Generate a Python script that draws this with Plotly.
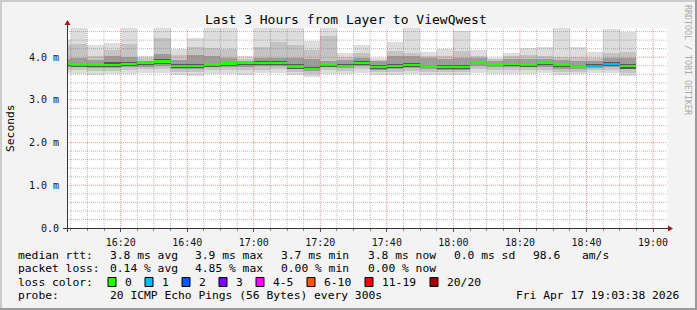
import plotly.graph_objects as go
import pandas as pd

# ---------------- data ----------------
slot_start = pd.date_range("2026-04-17 16:00", periods=35, freq="5min")

ping_max = [4.40, 4.75, 4.29, 4.34, 4.75, 4.02, 4.75, 4.19, 4.44, 4.75, 4.75, 4.03, 4.75, 4.75, 4.75,
            4.38, 4.75, 4.09, 4.29, 3.98, 4.35, 4.75, 4.12, 4.19, 4.61, 4.17, 3.99, 4.10, 4.21, 4.25,
            4.75, 4.23, 4.12, 4.67, 4.59]
ping_hi2 = [4.28, 4.31, 4.03, 4.17, 4.32, 3.97, 4.45, 4.05, 4.25, 4.22, 4.19, 3.95, 4.23, 4.36, 4.29,
            4.17, 4.50, 4.00, 4.10, 3.94, 4.15, 4.10, 4.03, 4.02, 4.15, 4.02, 3.95, 4.02, 4.05, 4.02,
            4.00, 4.00, 3.98, 4.09, 4.13]
ping_hi3 = [3.96, 3.97, 3.93, 4.03, 4.00, 3.92, 4.07, 3.93, 4.05, 4.02, 3.97, 3.91, 3.97, 3.97, 3.97,
            3.95, 3.92, 3.94, 3.97, 3.90, 4.03, 4.02, 3.97, 3.95, 3.97, 3.97, 3.91, 3.95, 3.95, 3.96,
            3.93, 3.92, 3.92, 3.97, 3.99]
ping_hi4 = [3.89, 3.87, 3.86, 3.88, 3.88, 3.89, 3.95, 3.84, 3.84, 3.87, 3.89, 3.89, 3.91, 3.91, 3.83,
            3.77, 3.87, 3.84, 3.91, 3.81, 3.84, 3.86, 3.82, 3.81, 3.82, 3.91, 3.86, 3.87, 3.87, 3.89,
            3.87, 3.82, 3.84, 3.88, 3.83]
median_rtt = [3.85, 3.83, 3.83, 3.82, 3.84, 3.86, 3.90, 3.80, 3.79, 3.83, 3.85, 3.86, 3.87, 3.87, 3.78,
              3.73, 3.83, 3.80, 3.87, 3.77, 3.79, 3.82, 3.78, 3.77, 3.77, 3.88, 3.83, 3.84, 3.83, 3.86,
              3.83, 3.78, 3.80, 3.84, 3.79]
ping_lo4 = [3.79, 3.78, 3.78, 3.76, 3.79, 3.81, 3.84, 3.75, 3.74, 3.78, 3.80, 3.81, 3.82, 3.82, 3.73,
            3.69, 3.78, 3.76, 3.82, 3.73, 3.74, 3.77, 3.74, 3.73, 3.72, 3.83, 3.79, 3.79, 3.78, 3.81,
            3.77, 3.74, 3.77, 3.80, 3.73]
ping_lo3 = [3.77, 3.76, 3.75, 3.74, 3.77, 3.78, 3.80, 3.73, 3.72, 3.76, 3.77, 3.78, 3.79, 3.79, 3.72,
            3.67, 3.76, 3.74, 3.80, 3.71, 3.72, 3.75, 3.72, 3.71, 3.71, 3.80, 3.76, 3.77, 3.76, 3.78,
            3.73, 3.72, 3.75, 3.77, 3.72]
ping_lo2 = [3.70, 3.70, 3.68, 3.67, 3.70, 3.72, 3.72, 3.66, 3.66, 3.69, 3.70, 3.70, 3.71, 3.72, 3.66,
            3.60, 3.69, 3.68, 3.72, 3.65, 3.66, 3.68, 3.66, 3.65, 3.65, 3.72, 3.69, 3.70, 3.69, 3.71,
            3.66, 3.66, 3.69, 3.71, 3.64]
ping_min = [3.62, 3.61, 3.59, 3.60, 3.61, 3.63, 3.62, 3.58, 3.57, 3.60, 3.60, 3.59, 3.62, 3.62, 3.58,
            3.53, 3.60, 3.60, 3.63, 3.59, 3.59, 3.60, 3.59, 3.58, 3.59, 3.62, 3.61, 3.61, 3.60, 3.62,
            3.58, 3.60, 3.62, 3.63, 3.56]
lost_pings = [0, 0, 0, 0, 0, 0, 0, 0, 0, 0, 0, 0, 0, 0, 0, 0, 0, 0, 0, 0, 0, 0, 0, 0, 0, 0, 0, 0, 0, 0,
              0, 0, 1, 1, 0]

loss_labels = ["0", "1", "2", "3", "4-5", "6-10", "11-19", "20/20"]
loss_colors = ["#26ff00", "#00b8ff", "#0059ff", "#7e00ff", "#ff00ff", "#ff5500", "#ff0000", "#a10000"]
loss_upper = [0, 1, 2, 3, 5, 10, 19, 20]

y_tick_vals = [0, 1, 2, 3, 4]
y_tick_text = ["0.0", "1.0 m", "2.0 m", "3.0 m", "4.0 m"]

title_text = "Last 3 Hours from Layer to ViewQwest"
stats_rtt = ["3.8 ms avg", "3.9 ms max", "3.7 ms min", "3.8 ms now", "0.0 ms sd", "98.6", "am/s"]
stats_loss = ["0.14 % avg", "4.85 % max", "0.00 % min", "0.00 % now"]
probe_text = "20 ICMP Echo Pings (56 Bytes) every 300s"
date_text = "Fri Apr 17 19:03:38 2026"

# ---------------- geometry ----------------
W, H = 697, 310
PL, PR, PT, PB = 67, 667, 28, 228
X_RANGE = ["2026-04-17 16:03:52", "2026-04-17 19:04:12"]
Y_RANGE = [0, 4.684]
MONO = "DejaVu Sans Mono"


def px(x):
    return (x - PL) / (PR - PL)


def py(y):
    return (PB - y) / (PB - PT)


centers = slot_start + pd.Timedelta(seconds=150)
BAR_W = 300000

fig = go.Figure()

layers = [
    (ping_min, ping_max, "#dddddd"),
    (ping_lo2, ping_hi2, "#c4c4c4"),
    (ping_lo3, ping_hi3, "#9c9c9c"),
    (ping_lo4, ping_hi4, "#575757"),
]
for lo, hi, col in layers:
    fig.add_trace(go.Bar(
        x=centers, base=lo, y=[h - l for l, h in zip(lo, hi)], width=BAR_W,
        marker=dict(color=col, line=dict(width=0)), hoverinfo="skip", showlegend=False))


def loss_color(n):
    for up, c in zip(loss_upper, loss_colors):
        if n <= up:
            return c
    return loss_colors[-1]


MED_H = 0.058
fig.add_trace(go.Bar(
    x=centers, base=[m - MED_H / 2 for m in median_rtt], y=[MED_H] * len(median_rtt), width=BAR_W,
    marker=dict(color=[loss_color(n) for n in lost_pings], line=dict(width=0)),
    hoverinfo="skip", showlegend=False))

# grid drawn on top of the smoke (as in rrdtool)
grid_times = pd.date_range("2026-04-17 16:05", "2026-04-17 19:00", freq="5min")
minor_x, minor_y, major_x, major_y = [], [], [], []
for t in grid_times:
    if t.minute % 20 == 0:
        major_x += [t, t, None]
        major_y += [Y_RANGE[0], Y_RANGE[1], None]
    else:
        minor_x += [t, t, None]
        minor_y += [Y_RANGE[0], Y_RANGE[1], None]
for i in range(1, 24):
    v = i * 0.2
    if i % 5 == 0:
        major_x += [X_RANGE[0], X_RANGE[1], None]
        major_y += [v, v, None]
    else:
        minor_x += [X_RANGE[0], X_RANGE[1], None]
        minor_y += [v, v, None]
fig.add_trace(go.Scatter(x=minor_x, y=minor_y, mode="lines", hoverinfo="skip", showlegend=False,
                         line=dict(color="rgba(120,120,120,0.5)", width=1, dash="1px,1px")))
fig.add_trace(go.Scatter(x=major_x, y=major_y, mode="lines", hoverinfo="skip", showlegend=False,
                         line=dict(color="rgba(235,70,70,0.6)", width=1, dash="1px,1px")))

fig.update_layout(
    width=W, height=H, autosize=False,
    margin=dict(l=PL, r=W - PR, t=PT, b=H - PB, pad=0),
    paper_bgcolor="#f3f3f3", plot_bgcolor="#ffffff",
    barmode="overlay", bargap=0, showlegend=False,
    font=dict(family=MONO, color="#000000"),
)
fig.update_xaxes(
    type="date", range=X_RANGE, showgrid=False, zeroline=False, showline=False,
    tickformat="%H:%M", tick0="2026-04-17 16:00", dtick=1200000,
    ticks="outside", ticklen=3, tickcolor="#555555", ticklabelstandoff=2,
    tickfont=dict(family=MONO, size=10, color="#111111"),
    minor=dict(dtick=300000, ticks="outside", ticklen=2, tickcolor="#888888", showgrid=False),
)
fig.update_yaxes(
    range=Y_RANGE, showgrid=False, zeroline=False, showline=False,
    tickvals=y_tick_vals, ticktext=y_tick_text, ticks="", ticklabelstandoff=7,
    tickfont=dict(family=MONO, size=10, color="#111111"),
)

shapes = []
# frame
shapes.append(dict(type="line", xref="paper", yref="paper", x0=px(0), x1=px(W), y0=py(1), y1=py(1),
                   line=dict(color="#cccccc", width=2)))
shapes.append(dict(type="line", xref="paper", yref="paper", x0=px(1), x1=px(1), y0=py(0), y1=py(H),
                   line=dict(color="#cccccc", width=2)))
shapes.append(dict(type="line", xref="paper", yref="paper", x0=px(0), x1=px(W), y0=py(H - 1), y1=py(H - 1),
                   line=dict(color="#9a9a9a", width=2)))
shapes.append(dict(type="line", xref="paper", yref="paper", x0=px(W - 1), x1=px(W - 1), y0=py(0), y1=py(H),
                   line=dict(color="#9a9a9a", width=2)))
# axes
shapes.append(dict(type="line", xref="paper", yref="paper", x0=px(63), x1=px(669), y0=py(228.5), y1=py(228.5),
                   line=dict(color="#333333", width=1)))
shapes.append(dict(type="line", xref="paper", yref="paper", x0=px(67.5), x1=px(67.5), y0=py(232), y1=py(24),
                   line=dict(color="#333333", width=1)))
shapes.append(dict(type="path", xref="paper", yref="paper",
                   path=f"M {px(668)} {py(225.5)} L {px(673)} {py(228.5)} L {px(668)} {py(231.5)} Z",
                   fillcolor="#a01818", line=dict(color="#a01818", width=0)))
shapes.append(dict(type="path", xref="paper", yref="paper",
                   path=f"M {px(64.5)} {py(25)} L {px(67.5)} {py(20)} L {px(70.5)} {py(25)} Z",
                   fillcolor="#a01818", line=dict(color="#a01818", width=0)))

annotations = []


def text(x, y, s, size=11.3, anchor="left", color="#000000", angle=0):
    annotations.append(dict(xref="paper", yref="paper", x=px(x), y=py(y), text=s, showarrow=False,
                            xanchor=anchor, yanchor="middle", textangle=angle,
                            font=dict(family=MONO, size=size, color=color)))


text(346, 19, title_text, size=13, anchor="center")
text(10, 128, "Seconds", size=11.3, anchor="center", angle=-90)
text(688, 60, "RRDTOOL / TOBI OETIKER", size=8.3, anchor="center", color="#aaaaaa", angle=90)

ROW = [255, 268.5, 282, 295.5]
text(16, ROW[0], "median rtt:")
for s, x in zip(stats_rtt, [108, 193, 279, 366, 452, 531, 580]):
    text(x, ROW[0], s)
text(16, ROW[1], "packet loss:")
for s, x in zip(stats_loss, [108, 193, 279, 366]):
    text(x, ROW[1], s)
text(16, ROW[2], "loss color:")
for lab, col, x in zip(loss_labels, loss_colors, [108, 145, 182, 219, 256, 307, 365, 430]):
    shapes.append(dict(type="rect", xref="paper", yref="paper", x0=px(x), x1=px(x + 8), y0=py(ROW[2] - 4.5),
                       y1=py(ROW[2] + 4.5), fillcolor=col, line=dict(color="#000000", width=1)))
    text(x + 15, ROW[2], lab)
text(16, ROW[3], "probe:")
text(108, ROW[3], probe_text)
text(681, ROW[3], date_text, anchor="right")

fig.update_layout(shapes=shapes, annotations=annotations)
fig.write_html("out.html")
